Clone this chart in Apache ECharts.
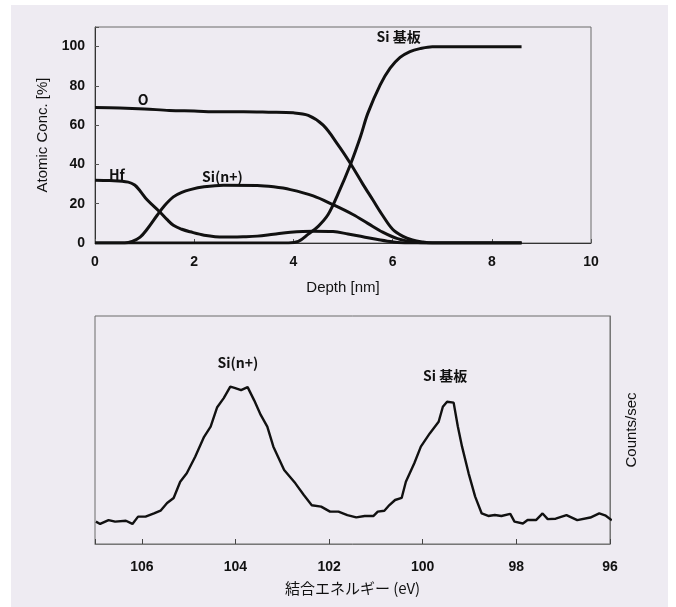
<!DOCTYPE html>
<html>
<head>
<meta charset="utf-8">
<script src="https://cdn.jsdelivr.net/npm/echarts@6/dist/echarts.min.js"></script>
<style>
html,body{margin:0;padding:0;background:#ffffff;}
#bg{position:absolute;left:11px;top:5px;width:657px;height:602px;background:#eeebf2;}
#chart{position:absolute;left:0;top:0;width:676px;height:607px;}
</style>
</head>
<body>
<div id="bg"></div>
<div id="chart"></div>
<script>
// ---------- Depth profile (top) ----------
const depthO = [0,0.5,1,1.5,2,2.5,3,3.5,4,4.3,4.6,4.9,5.15,5.4,5.6,5.8,6.0,6.2,6.4,6.6,6.8,7,8.6];
const valO   = [69,68.8,68.3,67.5,67.2,66.8,66.8,66.6,66.3,65,60,50,40.5,30,22,14,7,3.5,1.5,0.5,0,0,0];

const depthSub = [0,3.9,4.1,4.3,4.5,4.7,4.9,5.15,5.35,5.5,5.75,5.95,6.15,6.35,6.55,6.8,7,8.6];
const valSub   = [0,0,0.8,4.5,8.5,14.5,25,40,54,66,80.5,89,94.5,97.5,99,100,100,100];

const depthHf = [0,0.3,0.67,0.8,0.91,1.05,1.3,1.45,1.58,1.75,1.92,2.2,2.59,3.0,3.27,3.6,3.94,4.4,4.8,5.1,5.4,5.7,6.0,6.3,8.6];
const valHf   = [32,31.8,31,29.5,26.5,22,16,12,9,7,5.7,4,3,3.2,3.5,4.5,5.5,6,5.8,4.6,3.2,1.8,0.6,0,0];

const depthSiN = [0,0.6,0.75,0.91,1.05,1.25,1.4,1.58,1.75,1.92,2.2,2.59,3.27,3.6,3.94,4.4,4.8,5.2,5.5,5.8,6.1,6.4,6.7,8.6];
const valSiN   = [0,0,0.8,3,7,14,19,23.5,25.8,27.2,28.6,29.4,29.3,28.6,27.2,24,19.5,14.5,10,5.5,2.2,0.6,0,0];

const topXTicks = [0,2,4,6,8,10];
const topYTicks = [0,20,40,60,80,100];
const topAnnotations = [
  {name:'O', coord:[0.97,73]},
  {name:'Hf', coord:[0.44,35]},
  {name:'Si(n+)', coord:[2.57,34]},
  {name:'Si 基板', coord:[6.12,105]}
];

// ---------- XPS spectrum (bottom) ----------
const energy = [106.98,106.89,106.71,106.57,106.34,106.20,106.08,105.92,105.74,105.60,105.46,105.32,105.18,105.04,104.86,104.67,104.53,104.39,104.25,104.11,104.02,103.88,103.74,103.60,103.46,103.32,103.19,102.96,102.72,102.54,102.37,102.17,101.98,101.80,101.61,101.42,101.24,101.05,100.96,100.82,100.73,100.59,100.45,100.36,100.18,100.04,99.85,99.66,99.57,99.48,99.34,99.25,99.16,99.02,98.88,98.74,98.60,98.46,98.32,98.13,98.04,97.86,97.76,97.58,97.44,97.33,97.16,96.93,96.70,96.42,96.23,96.09,95.96];
const counts = [9.8,8.8,10.5,9.8,10.2,8.8,12,12,13.4,14.6,18,20.2,27.3,31,38.3,47,51.5,60,64,69,68.5,67.5,68.8,63,56.6,51.5,42.7,32.5,26.6,21.5,17,16.4,14.2,14.2,12.7,11.7,12.3,12.3,14.2,14.6,16.7,19.3,20.2,27.3,35.4,42.7,48.5,53.6,60.2,62.4,62,51.5,42.7,31,20.8,13.4,12.3,12.7,12.3,13.2,9.8,9,10.5,10.5,13.4,10.9,11.1,12.7,10.5,11.6,13.4,12.4,10.4];
const bottomXTicks = [96,98,100,102,104,106];
const bottomAnnotations = [
  {name:'Si(n+)', coord:[103.95,79.4]},
  {name:'Si 基板', coord:[99.52,73.7]}
];

const zip = (a,b) => a.map((v,i)=>[v,b[i]]);
const tickFont = "'Liberation Sans','Arial',sans-serif";
const jpFont = "'Noto Sans CJK JP','Liberation Sans',sans-serif";
const lineStyle = {color:'#111', width:3};

function annot(list){
  return {
    symbol:'circle', symbolSize:1,
    itemStyle:{color:'rgba(0,0,0,0)'},
    label:{show:true, position:'inside', formatter:p=>p.name, color:'#111',
           fontSize:14, fontWeight:'bold', fontFamily:jpFont},
    data:list.map(a=>({name:a.name, coord:a.coord}))
  };
}

const chart = echarts.init(document.getElementById('chart'), null, {renderer:'canvas'});
const option = {
  backgroundColor:'transparent',
  animation:false,
  grid:[
    {left:95, right:85, top:27, bottom:364, show:true, borderColor:'#6a6a6a', borderWidth:1, backgroundColor:'transparent'},
    {left:95, right:66, top:316, bottom:63, show:true, borderColor:'#6a6a6a', borderWidth:1, backgroundColor:'transparent'}
  ],
  xAxis:[
    {gridIndex:0, type:'value', min:0, max:10, interval:2,
     name:'Depth [nm]', nameLocation:'middle', nameGap:37,
     nameTextStyle:{fontFamily:tickFont, fontSize:15, color:'#111'},
     axisLine:{show:true, lineStyle:{color:'#333', width:1}},
     axisTick:{show:true, inside:true, length:4, lineStyle:{color:'#555'}},
     axisLabel:{margin:12, fontFamily:tickFont, fontWeight:'bold', fontSize:14, color:'#111',
       formatter:v=>topXTicks.includes(v)?String(v):''},
     splitLine:{show:false}},
    {gridIndex:1, type:'value', min:96, max:107, interval:2, inverse:true,
     name:'結合エネルギー (eV)', nameLocation:'middle', nameGap:37,
     nameTextStyle:{fontFamily:jpFont, fontSize:15, color:'#111'},
     axisLine:{show:true, lineStyle:{color:'#777', width:1}},
     axisTick:{show:true, inside:true, length:5, lineStyle:{color:'#444'}},
     axisLabel:{margin:16, fontFamily:tickFont, fontWeight:'bold', fontSize:14, color:'#111',
       formatter:v=>bottomXTicks.includes(v)?String(v):''},
     splitLine:{show:false}}
  ],
  yAxis:[
    {gridIndex:0, type:'value', min:0, max:110, interval:20,
     name:'Atomic Conc. [%]', nameLocation:'middle', nameGap:44, nameRotate:90,
     nameTextStyle:{fontFamily:"'Liberation Sans',sans-serif", fontSize:15, color:'#111'},
     axisLine:{show:true, lineStyle:{color:'#333', width:1}},
     axisTick:{show:true, inside:true, length:4, lineStyle:{color:'#555'}},
     axisLabel:{margin:10, fontFamily:tickFont, fontWeight:'bold', fontSize:14, color:'#111',
       formatter:v=>topYTicks.includes(v)?String(v):''},
     splitLine:{show:false}},
    {gridIndex:1, type:'value', min:0, max:100, position:'right',
     name:'Counts/sec', nameLocation:'middle', nameGap:14, nameRotate:90,
     nameTextStyle:{fontFamily:"'Liberation Sans',sans-serif", fontSize:15, color:'#111'},
     axisLine:{show:true, lineStyle:{color:'#777', width:1}},
     axisTick:{show:false}, axisLabel:{show:false}, splitLine:{show:false}}
  ],
  series:[
    {type:'line', xAxisIndex:0, yAxisIndex:0, data:zip(depthO,valO), smooth:0.35, symbol:'none', lineStyle:lineStyle, markPoint:annot(topAnnotations)},
    {type:'line', xAxisIndex:0, yAxisIndex:0, data:zip(depthSub,valSub), smooth:0.35, symbol:'none', lineStyle:lineStyle},
    {type:'line', xAxisIndex:0, yAxisIndex:0, data:zip(depthHf,valHf), smooth:0.35, symbol:'none', lineStyle:lineStyle},
    {type:'line', xAxisIndex:0, yAxisIndex:0, data:zip(depthSiN,valSiN), smooth:0.35, symbol:'none', lineStyle:lineStyle},
    {type:'line', xAxisIndex:1, yAxisIndex:1, data:zip(energy,counts), smooth:false, symbol:'none', lineStyle:{color:'#111', width:2.4}, markPoint:annot(bottomAnnotations)}
  ]
};
chart.setOption(option);
</script>
</body>
</html>
